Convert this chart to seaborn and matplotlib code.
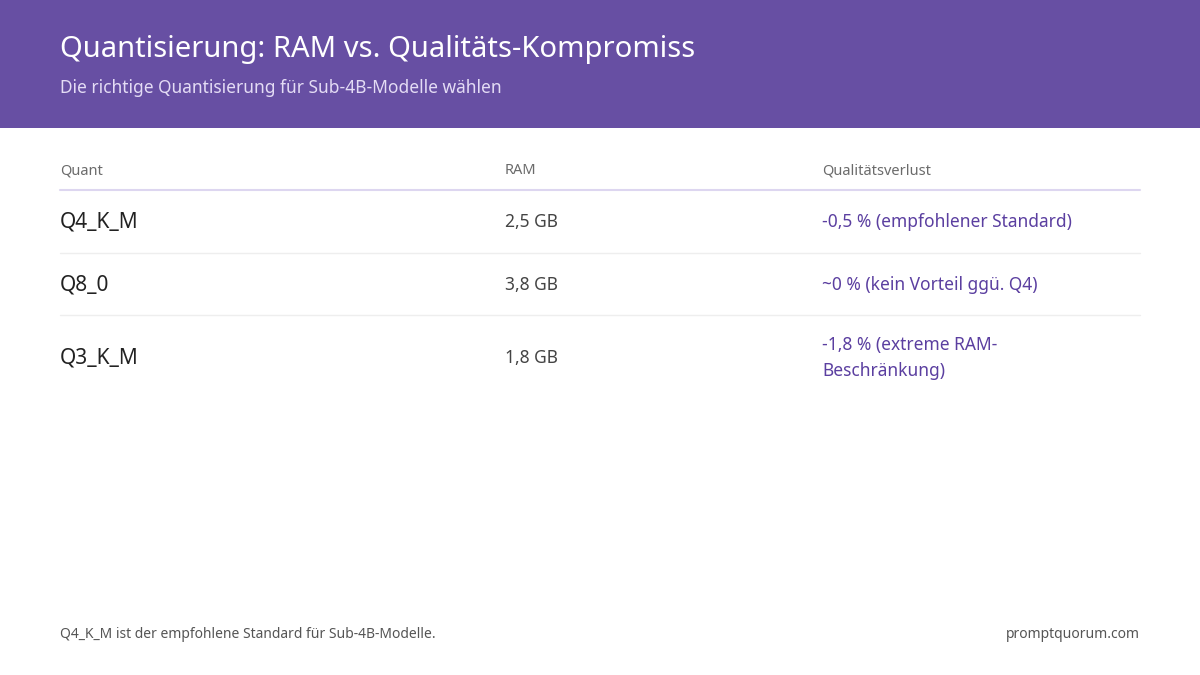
import matplotlib
matplotlib.use('Agg')
import seaborn as sns
from matplotlib import pyplot as plt
from matplotlib.patches import Rectangle

title = 'Quantisierung: RAM vs. Qualitäts-Kompromiss'
subtitle = 'Die richtige Quantisierung für Sub-4B-Modelle wählen'
columns = ['Quant', 'RAM', 'Qualitätsverlust']
quants = ['Q4_K_M', 'Q8_0', 'Q3_K_M']
ram = ['2,5 GB', '3,8 GB', '1,8 GB']
loss = ['-0,5 % (empfohlener Standard)', '~0 % (kein Vorteil ggü. Q4)',
        '-1,8 % (extreme RAM-\nBeschränkung)']
footer = 'Q4_K_M ist der empfohlene Standard für Sub-4B-Modelle.'
source = 'promptquorum.com'

sns.set_style('white')
plt.rcParams['font.family'] = ['Noto Sans', 'DejaVu Sans']

fig = plt.figure(figsize=(12, 6.75), dpi=100)
ax = fig.add_axes([0, 0, 1, 1])
ax.set_xlim(0, 1200)
ax.set_ylim(675, 0)
ax.axis('off')

purple = '#674fa3'
accent = '#5b3fa0'
ax.add_patch(Rectangle((0, 0), 1200, 128, color=purple, lw=0))
ax.text(60, 50, title, fontsize=21, color='white', va='center')
ax.text(60, 88, subtitle, fontsize=12.5, color='#e4dcf5', va='center')

col_x = [60, 505, 822]
for x, c in zip(col_x, columns):
    ax.text(x, 171, c, fontsize=10.5, color='#6b6b6b', va='center')
ax.plot([60, 1140], [190, 190], color='#ddd6f0', lw=1.5)

row_y = [222, 285, 358]
for i, (q, r, l) in enumerate(zip(quants, ram, loss)):
    y = row_y[i]
    ax.text(col_x[0], y, q, fontsize=15, color='#222222', va='center')
    ax.text(col_x[1], y, r, fontsize=12.5, color='#444444', va='center')
    ax.text(col_x[2], y, l, fontsize=12.5, color=accent, va='center', linespacing=1.6)
for y in [253, 315]:
    ax.plot([60, 1140], [y, y], color='#eeeeee', lw=1)

ax.text(60, 634, footer, fontsize=10, color='#555555', va='center')
ax.text(1140, 634, source, fontsize=10, color='#555555', va='center', ha='right')

fig.savefig('out.png', dpi=100)
